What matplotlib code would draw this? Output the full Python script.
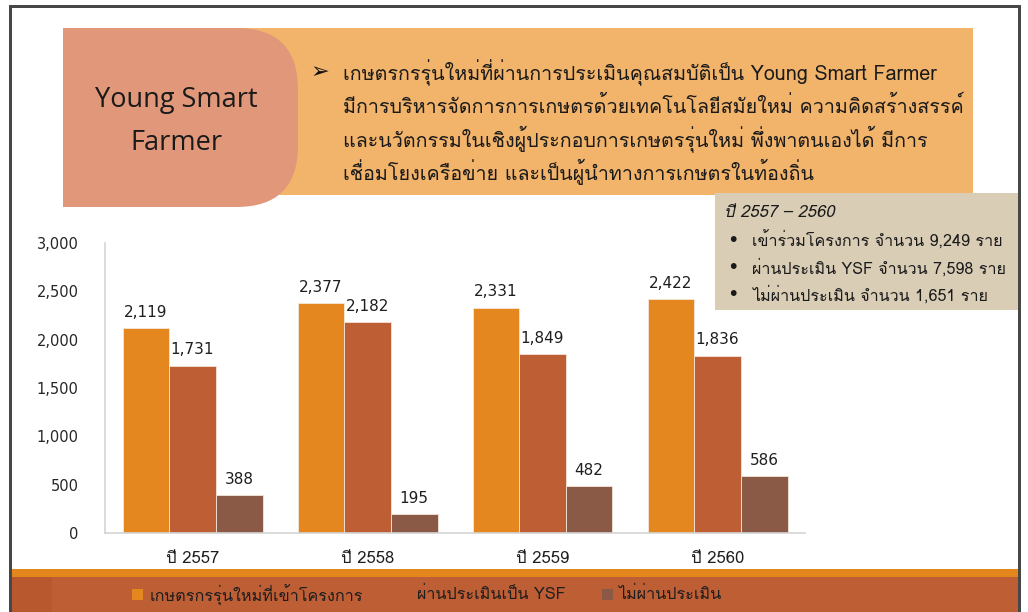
import matplotlib
matplotlib.use('Agg')
import matplotlib.pyplot as plt
from matplotlib.patches import Rectangle, FancyBboxPatch
from matplotlib.ticker import FuncFormatter
import numpy as np

# data
years = ['ปี 2557', 'ปี 2558', 'ปี 2559', 'ปี 2560']
series_names = ['เกษตรกรรุ่นใหม่ที่เข้าโครงการ', 'ผ่านประเมินเป็น YSF', 'ไม่ผ่านประเมิน']
joined = [2119, 2377, 2331, 2422]
passed = [1731, 2182, 1849, 1836]
failed = [388, 195, 482, 586]
colors = ['#E3871E', '#BE5E35', '#8A5A46']

header_lines = [
    'เกษตรกรรุ่นใหม่ที่ผ่านการประเมินคุณสมบัติเป็น Young Smart Farmer',
    'มีการบริหารจัดการการเกษตรด้วยเทคโนโลยีสมัยใหม่ ความคิดสร้างสรรค์',
    'และนวัตกรรมในเชิงผู้ประกอบการเกษตรรุ่นใหม่ พึ่งพาตนเองได้ มีการ',
    'เชื่อมโยงเครือข่าย และเป็นผู้นำทางการเกษตรในท้องถิ่น',
]
summary_title = 'ปี 2557 – 2560'
summary_items = [
    'เข้าร่วมโครงการ จำนวน 9,249 ราย',
    'ผ่านประเมิน YSF จำนวน 7,598 ราย',
    'ไม่ผ่านประเมิน จำนวน 1,651 ราย',
]

W, H = 1028, 612
THAI = ['Loma', 'DejaVu Sans']


def fx(x):
    return x / W


def fy(y):
    return 1 - y / H


fig = plt.figure(figsize=(W / 100, H / 100), dpi=100)


def frect(x0, y0, x1, y1, color, z=0):
    fig.patches.append(Rectangle((fx(x0), fy(y1)), fx(x1) - fx(x0), fy(y0) - fy(y1),
                                 transform=fig.transFigure, facecolor=color,
                                 edgecolor='none', zorder=z))


# frame
frect(9, 5, 1021, 8, '#474747', 5)
frect(9, 5, 12, 612, '#474747', 5)
frect(1018, 5, 1021, 612, '#474747', 5)

# header boxes
frect(63, 28, 973, 195, '#F2B46B', 1)
frect(63, 28, 200, 207, '#E0977A', 2)
fig.patches.append(FancyBboxPatch((fx(120), fy(207)), fx(298) - fx(120), fy(28) - fy(207),
                                  boxstyle='round,pad=0,rounding_size=0.06',
                                  transform=fig.transFigure, facecolor='#E0977A',
                                  edgecolor='none', zorder=2, mutation_aspect=W / H))
fig.text(fx(176), fy(100), 'Young Smart', family='Open Sans', fontsize=19.5,
         ha='center', va='center', color='#1a1a1a', zorder=6)
fig.text(fx(176), fy(143), 'Farmer', family='Open Sans', fontsize=19.5,
         ha='center', va='center', color='#1a1a1a', zorder=6)

fig.text(fx(311), fy(72), '➢', family=['DejaVu Sans'], fontsize=16,
         ha='left', va='center', color='#111111', zorder=6)
for i, line in enumerate(header_lines):
    fig.text(fx(343), fy(73 + i * 33), line, family=THAI, fontsize=14.2,
             ha='left', va='center', color='#1a1a1a', zorder=6)

# summary box
frect(715, 193, 1018, 310, '#D9CDB6', 7)
fig.text(fx(724), fy(213), summary_title, family=THAI, fontsize=12, style='italic',
         ha='left', va='center', color='#1a1a1a', zorder=8)
for i, item in enumerate(summary_items):
    yy = 241 + i * 27
    fig.text(fx(729), fy(yy), '•', family=THAI, fontsize=12, ha='left',
             va='center', color='#1a1a1a', zorder=8)
    fig.text(fx(752), fy(yy), item, family=THAI, fontsize=11.6, ha='left',
             va='center', color='#1a1a1a', zorder=8)

# bottom band
frect(12, 569, 1018, 577, '#E3861C', 1)
frect(12, 577, 1018, 612, '#BE5E35', 1)
frect(12, 577, 52, 612, '#B8582F', 1)

# chart
ax = fig.add_axes([fx(105), fy(533), fx(805) - fx(105), fy(243) - fy(533)])
ax.set_facecolor('none')
x = np.arange(len(years))
bw = 0.8 / 3
for k, vals in enumerate([joined, passed, failed]):
    bars = ax.bar(x + (k - 1) * bw, vals, bw, color=colors[k],
                  edgecolor='#F4E6DA', linewidth=0.6, label=series_names[k])
    for b, v in zip(bars, vals):
        ax.annotate(f'{v:,}', (b.get_x() + b.get_width() / 2, v),
                    xytext=(0, 6), textcoords='offset points', ha='center',
                    va='bottom', fontsize=11, color='#1e1e1e', family='DejaVu Sans')

ax.set_xlim(-0.5, len(years) - 0.5)
ax.set_ylim(0, 3000)
ax.set_yticks(range(0, 3001, 500))
ax.yaxis.set_major_formatter(FuncFormatter(lambda v, p: f'{int(v):,}'))
ax.set_xticks(x)
ax.set_xticklabels(years, family=THAI, fontsize=12, color='#1e1e1e')
for lab in ax.get_yticklabels():
    lab.set_fontsize(10.5)
    lab.set_color('#262626')
    lab.set_family('DejaVu Sans')
ax.tick_params(axis='y', length=0, pad=19)
ax.tick_params(axis='x', length=0, pad=13)
for s in ['top', 'right']:
    ax.spines[s].set_visible(False)
for s in ['left', 'bottom']:
    ax.spines[s].set_color('#d4d4d4')
    ax.spines[s].set_linewidth(1.2)

# legend in the bottom band
leg_items = [(132, 150, colors[0]), (398, 417, colors[1]), (602, 618, colors[2])]
for (sx, tx, c), name in zip(leg_items, series_names):
    frect(sx, 589, sx + 11, 600, c, 2)
    fig.text(fx(tx), fy(595), name, family=THAI, fontsize=11.7, ha='left',
             va='center', color='#1e1e1e', zorder=3)

fig.savefig('out.png', dpi=100)
